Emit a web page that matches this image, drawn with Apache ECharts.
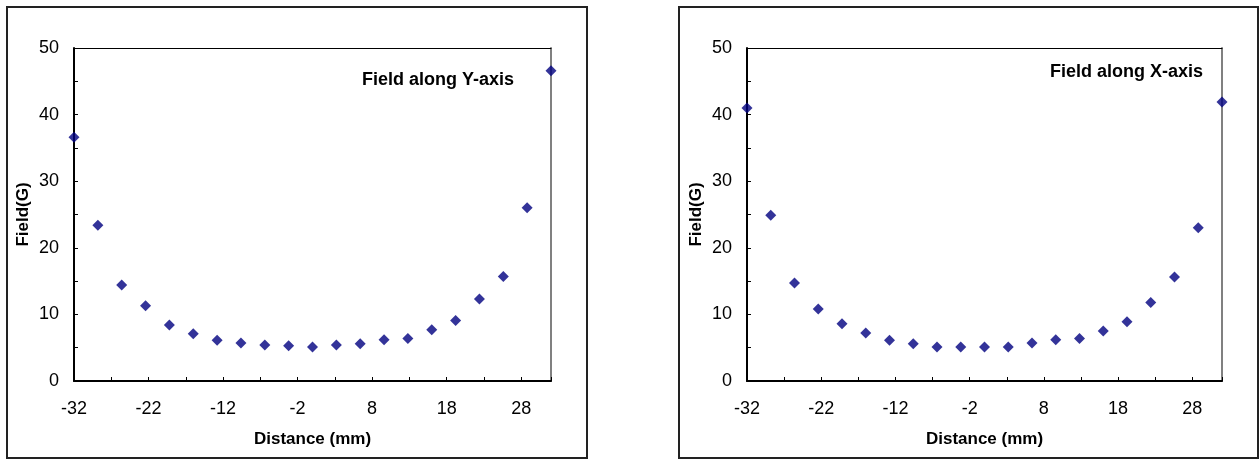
<!DOCTYPE html>
<html>
<head>
<meta charset="utf-8">
<script src="https://cdn.jsdelivr.net/npm/echarts@6/dist/echarts.min.js"></script>
<style>
html,body{margin:0;padding:0;background:#fff;}
#c{width:1260px;height:460px;}
</style>
</head>
<body>
<div id="c"></div>
<script>
// Data
const distance = [-32, -28.8, -25.6, -22.4, -19.2, -16, -12.8, -9.6, -6.4, -3.2, 0, 3.2, 6.4, 9.6, 12.8, 16, 19.2, 22.4, 25.6, 28.8, 32];
const fieldY = [36.6, 23.4, 14.4, 11.3, 8.4, 7.1, 6.1, 5.7, 5.4, 5.3, 5.1, 5.4, 5.6, 6.2, 6.4, 7.7, 9.1, 12.3, 15.7, 26.0, 46.6];
const fieldX = [41.0, 24.9, 14.7, 10.8, 8.6, 7.2, 6.1, 5.6, 5.1, 5.1, 5.1, 5.1, 5.7, 6.2, 6.4, 7.5, 8.9, 11.8, 15.6, 23.0, 41.9];
const xTickLabels = [-32, -22, -12, -2, 8, 18, 28];
const yTickLabels = [0, 10, 20, 30, 40, 50];
const panelTitles = ['Field along Y-axis', 'Field along X-axis'];
const xName = 'Distance (mm)';
const yName = 'Field(G)';

const FONT = '"Liberation Sans", Arial, sans-serif';
const chart = echarts.init(document.getElementById('c'));

const grids = [
  {left: 74, top: 48, width: 477, height: 333},
  {left: 747, top: 48, width: 475, height: 333}
];

function xAxes(i) {
  return [{
    type: 'value', gridIndex: i, min: -32, max: 32, interval: 5,
    name: xName, nameLocation: 'middle', nameGap: 50,
    nameTextStyle: {fontFamily: FONT, fontSize: 17, fontWeight: 'bold', color: '#000'},
    axisLine: {show: true, onZero: false, lineStyle: {color: '#000', width: 2}},
    axisTick: {show: true, inside: true, length: 4, lineStyle: {color: '#000', width: 1}},
    axisLabel: {
      margin: 19, fontFamily: FONT, fontSize: 18, color: '#000', showMaxLabel: true,
      formatter: v => xTickLabels.indexOf(Math.round(v)) >= 0 && Math.abs(v - Math.round(v)) < 1e-6 ? String(Math.round(v)) : ''
    },
    splitLine: {show: false}
  }, {
    type: 'value', gridIndex: i, position: 'top', min: -32, max: 32,
    axisLine: {show: true, onZero: false, lineStyle: {color: '#000', width: 1}},
    axisTick: {show: false}, axisLabel: {show: false}, splitLine: {show: false}
  }];
}
function yAxes(i) {
  return [{
    type: 'value', gridIndex: i, min: 0, max: 50, interval: 5,
    name: yName, nameLocation: 'middle', nameGap: 42,
    nameTextStyle: {fontFamily: FONT, fontSize: 17, fontWeight: 'bold', color: '#000'},
    axisLine: {show: true, onZero: false, lineStyle: {color: '#000', width: 2}},
    axisTick: {show: true, inside: true, length: 4, lineStyle: {color: '#000', width: 1}},
    axisLabel: {
      margin: 15, fontFamily: FONT, fontSize: 18, color: '#000',
      formatter: v => yTickLabels.indexOf(v) >= 0 ? String(v) : ''
    },
    splitLine: {show: false}
  }, {
    type: 'value', gridIndex: i, position: 'right', min: 0, max: 50,
    axisLine: {show: true, onZero: false, lineStyle: {color: '#808080', width: 2}},
    axisTick: {show: false}, axisLabel: {show: false}, splitLine: {show: false}
  }];
}

const option = {
  animation: false,
  backgroundColor: '#fff',
  grid: grids,
  xAxis: [...xAxes(0), ...xAxes(1)],
  yAxis: [...yAxes(0), ...yAxes(1)],
  series: [
    {type: 'scatter', xAxisIndex: 0, yAxisIndex: 0, symbol: 'diamond', symbolSize: 11,
     itemStyle: {color: '#000080'}, data: distance.map((d, k) => [d, fieldY[k]])},
    {type: 'scatter', xAxisIndex: 2, yAxisIndex: 2, symbol: 'diamond', symbolSize: 11,
     itemStyle: {color: '#000080'}, data: distance.map((d, k) => [d, fieldX[k]])}
  ],
  graphic: [
    {type: 'rect', shape: {x: 7, y: 7, width: 580, height: 451}, style: {fill: 'none', stroke: '#222', lineWidth: 2}, silent: true},
    {type: 'rect', shape: {x: 679, y: 7, width: 579, height: 451}, style: {fill: 'none', stroke: '#222', lineWidth: 2}, silent: true},
    {type: 'text', x: 514, y: 80, style: {text: panelTitles[0], fontFamily: FONT, fontSize: 18, fontWeight: 'bold', fill: '#000', textAlign: 'right', textVerticalAlign: 'middle'}},
    {type: 'text', x: 1203, y: 72, style: {text: panelTitles[1], fontFamily: FONT, fontSize: 18, fontWeight: 'bold', fill: '#000', textAlign: 'right', textVerticalAlign: 'middle'}}
  ]
};
chart.setOption(option);
</script>
</body>
</html>
